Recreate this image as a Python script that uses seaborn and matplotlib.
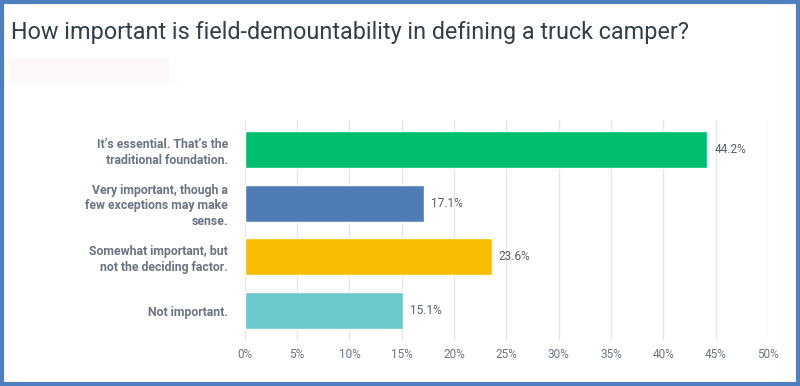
import pandas as pd
import matplotlib.pyplot as plt
import matplotlib.patches as patches
import seaborn as sns

# Data
answers = [
    "It\u2019s essential. That\u2019s the\ntraditional foundation.",
    "Very important, though a\nfew exceptions may make\nsense.",
    "Somewhat important, but\nnot the deciding factor.",
    "Not important.",
]
percent = [44.2, 17.1, 23.6, 15.1]
bar_colors = ["#00bf6f", "#507cb6", "#f9be00", "#6bc8cd"]
ticks = [0, 5, 10, 15, 20, 25, 30, 35, 40, 45, 50]

df = pd.DataFrame({"answer": answers, "percent": percent})

sns.set_style("white")
plt.rcParams["font.family"] = ["Roboto", "DejaVu Sans"]

fig = plt.figure(figsize=(8, 3.86), dpi=100)
ax = fig.add_axes([0.306, 0.119, 0.654, 0.570])

sns.barplot(data=df, x="percent", y="answer", hue="answer", palette=bar_colors,
            orient="h", width=0.69, legend=False, ax=ax, saturation=1)

for c in ax.containers:
    ax.bar_label(c, fmt="%.1f%%", padding=5, fontsize=8.5, color="#555f69")

ax.set_xlim(0, 50)
ax.set_ylim(3.55, -0.55)
ax.set_xticks(ticks)
ax.set_xticklabels([f"{t}%" for t in ticks])
ax.grid(axis="x", color="#e6e6e6", linewidth=1)
ax.set_axisbelow(True)
for s in ax.spines.values():
    s.set_visible(False)
ax.tick_params(axis="x", length=0, pad=6, labelsize=8.5, labelcolor="#6b7480")
ax.tick_params(axis="y", length=0, pad=12, labelsize=8.8, labelcolor="#6b7480")
for lab in ax.get_yticklabels():
    lab.set_fontweight("semibold")
    lab.set_horizontalalignment("right")
    lab.set_multialignment("right")
    lab.set_linespacing(1.25)
ax.set_xlabel("")
ax.set_ylabel("")

fig.text(0.014, 0.915, "How important is field-demountability in defining a truck camper?",
         fontsize=16.8, color="#333e48", va="center", ha="left")

# faint box under the title
fig.patches.append(patches.Rectangle((0.013, 0.785), 0.198, 0.065, transform=fig.transFigure,
                                     facecolor="#fcf8f8", edgecolor="none"))
# blue frame around the picture
fig.patches.append(patches.Rectangle((0.002, 0.004), 0.995, 0.99, transform=fig.transFigure,
                                     facecolor="none", edgecolor="#4f7fbf", linewidth=3))

fig.savefig("out.png", dpi=100, facecolor="white")
